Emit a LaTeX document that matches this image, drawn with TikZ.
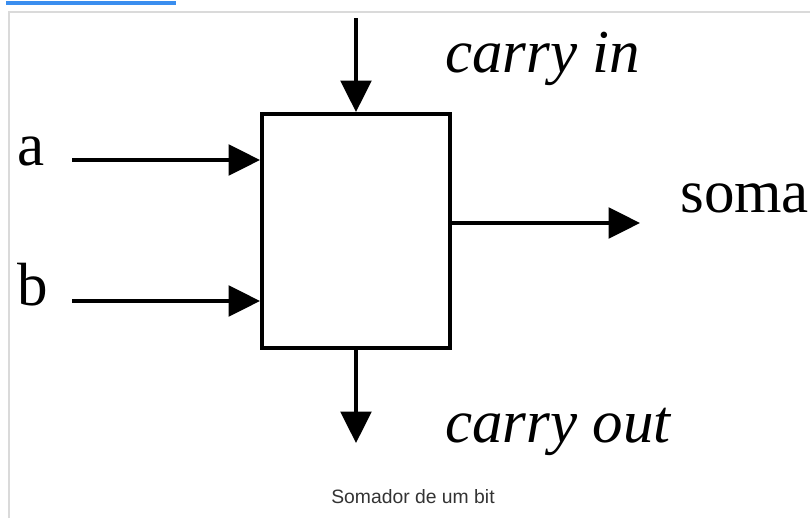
\documentclass[tikz,border=0pt]{standalone}
\usepackage{fontspec}
\setmainfont{Liberation Serif}
\newfontfamily\captionfont{Liberation Sans}
\usetikzlibrary{arrows.meta}
\definecolor{tabblue}{HTML}{3A8EEF}
\definecolor{framegray}{HTML}{DADADA}

\begin{document}
\begin{tikzpicture}[x=0.75pt,y=-0.75pt,
  block/.style={draw,line width=3pt,inner sep=0pt,minimum width=141pt,minimum height=175.5pt},
  arr/.style={-{Triangle[length=23.5pt,width=23pt]},line width=2.5pt},
  lbl/.style={font=\fontsize{45.75}{50}\selectfont,inner sep=0pt,anchor=base west},
  ilbl/.style={lbl,font=\fontsize{45.75}{50}\selectfont\itshape}]
  \useasboundingbox (0,0) rectangle (810,518);
  % page frame
  \fill[tabblue] (6,1) rectangle (176,4.5);
  \draw[framegray,line width=1.5pt] (9,518) -- (9,12) -- (810,12);
  % the adder
  \node[block] (adder) at (356,231) {};
  \coordinate (ain) at (72,160);
  \coordinate (bin) at (72,301);
  \coordinate (cin) at (356,18);
  \coordinate (sout) at (640,223);
  \coordinate (cout) at (356,443);
  \draw[arr] (ain) -- (ain -| adder.west);
  \draw[arr] (bin) -- (bin -| adder.west);
  \draw[arr] (cin) -- (adder.north);
  \draw[arr] (sout -| adder.east) -- (sout);
  \draw[arr] (adder.south) -- (cout);
  \node[lbl] (la) at (17,165) {a};
  \node[lbl] (lb) at (17,305) {b};
  \node[ilbl] (lcin) at (445,72) {carry in};
  \node[lbl] (lsoma) at (680,212) {soma};
  \node[ilbl] (lcout) at (445,442) {carry out};
  \node[font=\captionfont\fontsize{14.5}{16}\selectfont,text=black!80,inner sep=0pt,anchor=base] (cap) at (413,503) {Somador de um bit};
\end{tikzpicture}
\end{document}
